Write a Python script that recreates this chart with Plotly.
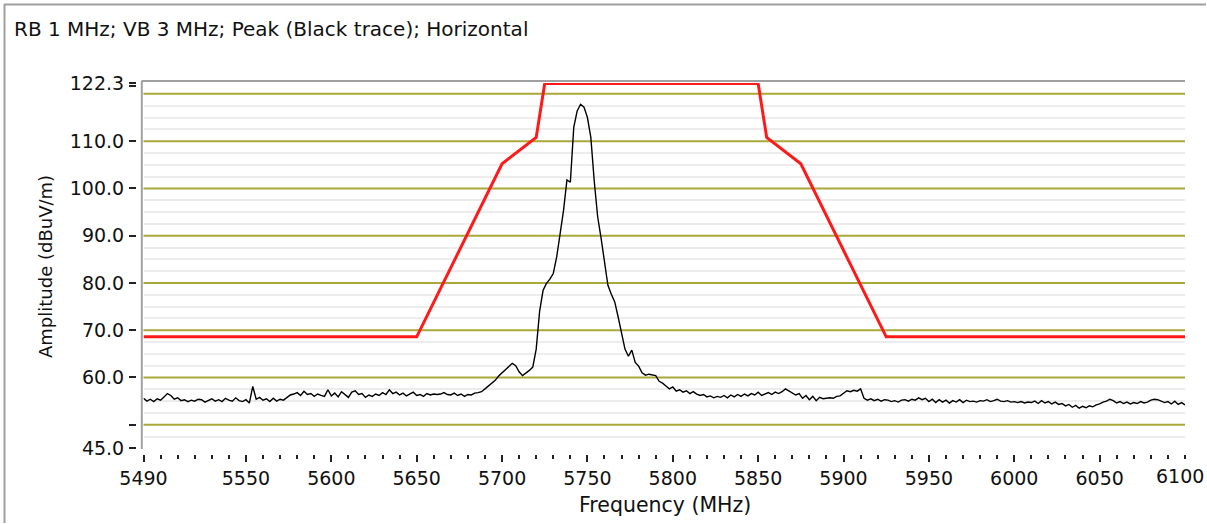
import numpy as np
import plotly.graph_objects as go

# ---------------- data ----------------
TITLE = "RB 1 MHz; VB 3 MHz; Peak (Black trace); Horizontal"
X_TITLE = "Frequency (MHz)"
Y_TITLE = "Amplitude (dBuV/m)"

# Black trace (peak), sampled every 2 MHz from 5490 MHz
TRACE_START = 5490
TRACE_STEP = 2
TRACE_VALS = [
    55.6, 55.0, 55.4, 54.9, 55.5, 55.2, 55.9, 56.6, 56.2, 55.4,
    55.7, 55.1, 55.3, 54.9, 55.2, 55.0, 55.4, 55.3, 54.8, 55.1,
    55.5, 55.0, 55.3, 54.9, 55.6, 55.2, 55.0, 55.7, 55.1, 54.9,
    55.3, 54.6, 58.1, 55.4, 55.8, 55.2, 55.5, 54.9, 55.6, 55.0,
    55.4, 55.2, 55.8, 56.3, 56.5, 56.8, 56.2, 57.1, 56.4, 56.6,
    56.0, 56.5, 56.2, 56.0, 57.4, 56.1, 56.7, 55.9, 57.0, 56.3,
    55.8, 56.9, 57.2, 56.4, 56.6, 55.8, 56.3, 56.0, 56.5, 56.2,
    56.8, 56.4, 57.4, 56.6, 56.9, 56.3, 56.7, 56.1, 56.5, 56.9,
    56.2, 56.4, 56.0, 56.6, 56.3, 56.5, 56.4, 56.5, 56.8, 56.4,
    56.3, 56.7, 56.2, 56.5, 56.0, 56.4, 56.3, 56.7, 56.8, 57.0,
    57.6, 58.2, 58.9, 59.4, 60.3, 61.0, 61.8, 62.4, 63.0, 62.5,
    61.2, 60.4, 60.9, 61.5, 62.2, 66.0, 74.0, 78.4, 79.9, 80.8,
    82.0, 85.5, 90.4, 95.3, 101.8, 101.3, 112.9, 116.4, 117.8, 117.2,
    115.0, 110.8, 101.5, 94.0, 89.5, 85.0, 79.5, 77.6, 76.0, 72.8,
    69.0, 66.0, 64.5, 65.8, 63.2, 62.4, 61.0, 60.5, 60.7, 60.6,
    60.4, 59.2, 58.8, 58.2, 57.6, 58.0, 57.1, 57.4, 56.9, 57.2,
    56.6, 57.0, 56.5, 56.2, 56.4, 55.9, 56.1, 55.7, 56.0, 55.8,
    56.2, 55.7, 56.3, 55.9, 56.4, 56.0, 56.5, 56.1, 56.6, 56.3,
    56.9, 56.2, 56.5, 56.8, 56.4, 56.9, 56.6, 57.0, 57.6, 57.2,
    56.8, 56.3, 56.6, 55.6, 56.2, 55.3, 56.0, 55.1, 55.8, 55.5,
    55.6, 55.7, 55.6, 56.0, 56.1, 56.6, 57.2, 57.0, 57.3, 57.1,
    57.6, 55.6, 55.2, 55.5, 55.1, 55.4, 55.0, 55.3, 55.2, 54.9,
    55.1, 54.8, 55.2, 55.3, 55.0, 55.4, 55.2, 55.7, 55.3, 55.6,
    54.9, 55.4, 54.7, 55.3, 54.8, 55.2, 54.6, 55.1, 54.8, 55.3,
    54.7, 55.2, 54.9, 55.0, 54.8, 55.1, 55.0, 55.3, 54.9, 55.1,
    55.4, 55.0, 54.9, 55.1, 54.8, 54.9, 54.7, 54.9, 54.6, 54.8,
    54.7, 55.0, 54.5, 55.1, 54.6, 54.9, 54.4, 54.8, 54.3, 54.5,
    54.0, 54.3, 53.7, 54.1, 53.5, 53.9, 53.6, 54.0, 53.8, 54.2,
    54.4, 54.8, 55.0, 55.4, 55.1, 54.6, 54.9, 54.5, 54.8, 54.4,
    54.7, 54.5, 54.9, 54.6, 54.8, 55.2, 55.4, 55.3, 55.0, 54.7,
    54.9, 54.4, 55.0, 54.3, 54.7, 54.2,
]
TRACE_FREQ = [TRACE_START + TRACE_STEP * i for i in range(len(TRACE_VALS))]

# Red limit mask breakpoints
MASK_FREQ = [5490, 5650, 5700, 5720, 5725, 5850, 5855, 5875, 5925, 6100]
MASK_VALS = [68.6, 68.6, 105.2, 110.8, 122.2, 122.2, 110.8, 105.2, 68.6, 68.6]

# Axes
X_RANGE = [5490, 6100]
Y_RANGE = [45, 122.3]
X_TICKS = [5490, 5500, 5550, 5600, 5650, 5700, 5750, 5800, 5850, 5900,
           5950, 6000, 6050, 6100]
X_TICKTEXT = ["5490", "", "5550", "5600", "5650", "5700", "5750", "5800",
              "5850", "5900", "5950", "6000", "6050", ""]
X_LAST_LABEL = "6100"   # drawn right-aligned so it stays inside the page
X_MINOR = list(range(5490, 6101, 10))
Y_TICKS = [45, 50, 60, 70, 80, 90, 100, 110, 121.6, 122.3]
Y_TICKTEXT = ["45.0", "", "60.0", "70.0", "80.0", "90.0", "100.0", "110.0",
              "", "122.3"]
GRID_MAJOR = [50, 60, 70, 80, 90, 100, 110, 120]
GRID_MINOR = [47.5, 52.5, 55, 57.5, 62.5, 65, 67.5, 72.5, 75, 77.5, 82.5, 85,
              87.5, 92.5, 95, 97.5, 102.5, 105, 107.5, 112.5, 115, 117.5]

# ---------------- layout geometry ----------------
W, H = 1207, 524
ML, MR, MT, MB = 136, 22, 83, 70
PW = W - ML - MR
PH = H - MT - MB
XD0 = 7.5 / PW          # x domain start (gap for y ticks)
YD0 = 5.6 / PH          # y domain start (gap for x ticks)

def px(x):
    return (x - ML) / PW

def py(y):
    return (H - MB - y) / PH

FONT = "DejaVu Sans"
OLIVE = "#a9a838"
GRAYLINE = "#a0a0a0"
TICKFONT = dict(family=FONT, size=19, color="#111")

fig = go.Figure()

fig.add_trace(go.Scatter(
    x=MASK_FREQ, y=MASK_VALS, mode="lines",
    line=dict(color="#ff1a1a", width=3), showlegend=False,
    hoverinfo="skip",
))
fig.add_trace(go.Scatter(
    x=TRACE_FREQ, y=TRACE_VALS, mode="lines",
    line=dict(color="#000000", width=1.4), showlegend=False,
))

shapes = []
for g in GRID_MAJOR:
    shapes.append(dict(type="line", xref="x domain", yref="y",
                       x0=0, x1=1, y0=g, y1=g, layer="below",
                       line=dict(color=OLIVE, width=2)))
# plot-area top border and left axis line
shapes.append(dict(type="line", xref="paper", yref="paper",
                   x0=px(141.5), x1=1, y0=py(81), y1=py(81),
                   line=dict(color=GRAYLINE, width=2)))
shapes.append(dict(type="line", xref="paper", yref="paper",
                   x0=px(141.8), x1=px(141.8), y0=py(81), y1=py(449),
                   line=dict(color=GRAYLINE, width=2)))
# outer window frame
shapes.append(dict(type="line", xref="paper", yref="paper",
                   x0=px(4), x1=px(W - 1), y0=py(4.5), y1=py(4.5),
                   line=dict(color=GRAYLINE, width=2)))
shapes.append(dict(type="line", xref="paper", yref="paper",
                   x0=px(4.5), x1=px(4.5), y0=py(4), y1=py(H - 1),
                   line=dict(color=GRAYLINE, width=2)))

annotations = [
    dict(text=TITLE, xref="paper", yref="paper", x=px(12), y=py(29),
         xanchor="left", yanchor="middle", showarrow=False,
         font=dict(family=FONT, size=20, color="#111")),
    dict(text=X_TITLE, xref="paper", yref="paper", x=px(665), y=py(505),
         xanchor="center", yanchor="middle", showarrow=False,
         font=dict(family=FONT, size=20.5, color="#111")),
    dict(text=Y_TITLE, xref="paper", yref="paper", x=px(45), y=py(267),
         xanchor="center", yanchor="middle", showarrow=False, textangle=-90,
         font=dict(family=FONT, size=18, color="#111")),
    dict(text=X_LAST_LABEL, xref="paper", yref="paper", x=px(1206),
         y=py(476), xanchor="right", yanchor="middle", showarrow=False,
         font=TICKFONT),
]

fig.update_layout(
    width=W, height=H,
    margin=dict(l=ML, r=MR, t=MT, b=MB, pad=0),
    paper_bgcolor="white", plot_bgcolor="white",
    font=dict(family=FONT, size=19, color="#111"),
    shapes=shapes, annotations=annotations,
    xaxis=dict(
        range=X_RANGE, domain=[XD0, 1], anchor="free", position=0,
        tickmode="array", tickvals=X_TICKS, ticktext=X_TICKTEXT,
        ticks="outside", ticklen=7, tickwidth=1.5, tickcolor="#222",
        showgrid=False, zeroline=False, showline=False,
        tickfont=TICKFONT,
        minor=dict(tickvals=X_MINOR, ticks="outside", ticklen=4,
                   tickwidth=1.5, tickcolor="#222", showgrid=False),
    ),
    yaxis=dict(
        range=Y_RANGE, domain=[YD0, 1], anchor="free", position=0,
        tickmode="array", tickvals=Y_TICKS, ticktext=Y_TICKTEXT,
        ticks="outside", ticklen=7, tickwidth=1.5, tickcolor="#222",
        showgrid=False, zeroline=False, showline=False,
        tickfont=TICKFONT,
        ticklabelstandoff=1,
        minor=dict(tickvals=GRID_MINOR, ticks="", showgrid=True,
                   gridcolor="#ececec", gridwidth=1.5),
    ),
)

fig.write_html("out.html")
